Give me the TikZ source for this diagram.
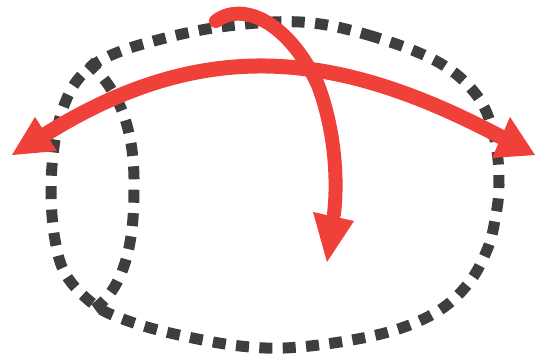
\documentclass[tikz,border=0pt]{standalone}
\begin{document}
\begin{tikzpicture}[x=0.5pt,y=-0.5pt,
  dashline/.style={draw={rgb,255:red,62;green,62;blue,62}, line width=5.5pt, dash pattern=on 6.5pt off 5.2pt},
  redshaft/.style={draw={rgb,255:red,240;green,64;blue,58}, line width=7.5pt, line cap=round},
  redhead/.style={fill={rgb,255:red,240;green,64;blue,58}}]
\useasboundingbox (0,0) rectangle (536,357);
% outer dashed outline
\draw[dashline] plot[smooth cycle, tension=0.6] coordinates {
 (300,22) (368,35) (438,62) (478,97) (495,140) (499,185) (495,220) (487,250)
 (468,284) (435,313) (381,334) (300,347) (240,346) (170,333) (120,318) (92,303)
 (66,275) (55,240) (51,190) (55,140) (65,103) (80,77) (105,58) (150,42) (220,27)};
% inner dashed curve
\draw[dashline] (88,62) .. controls (125,95) and (135,140) .. (134,190)
  .. controls (134,250) and (122,290) .. (93,310);
% wide arc arrow
\coordinate (la) at (46,134);
\coordinate (ra) at (501,137);
\draw[redshaft] (la) .. controls (204,36) and (337,50) .. (ra);
\fill[redhead] (12,155) -- (35,117) -- (57,151) -- cycle;
\fill[redhead] (535,155) -- (510,117) -- (492,158) -- cycle;
% downward arrow
\coordinate (ds) at (216,21);
\coordinate (de) at (334,214);
\draw[redshaft, line width=7pt] (ds) .. controls (245,0) and (290,25) .. (318,85)
  .. controls (335,130) and (338,180) .. (de);
\fill[redhead] (327,262) -- (313,212) -- (354,221) -- cycle;
\end{tikzpicture}
\end{document}
